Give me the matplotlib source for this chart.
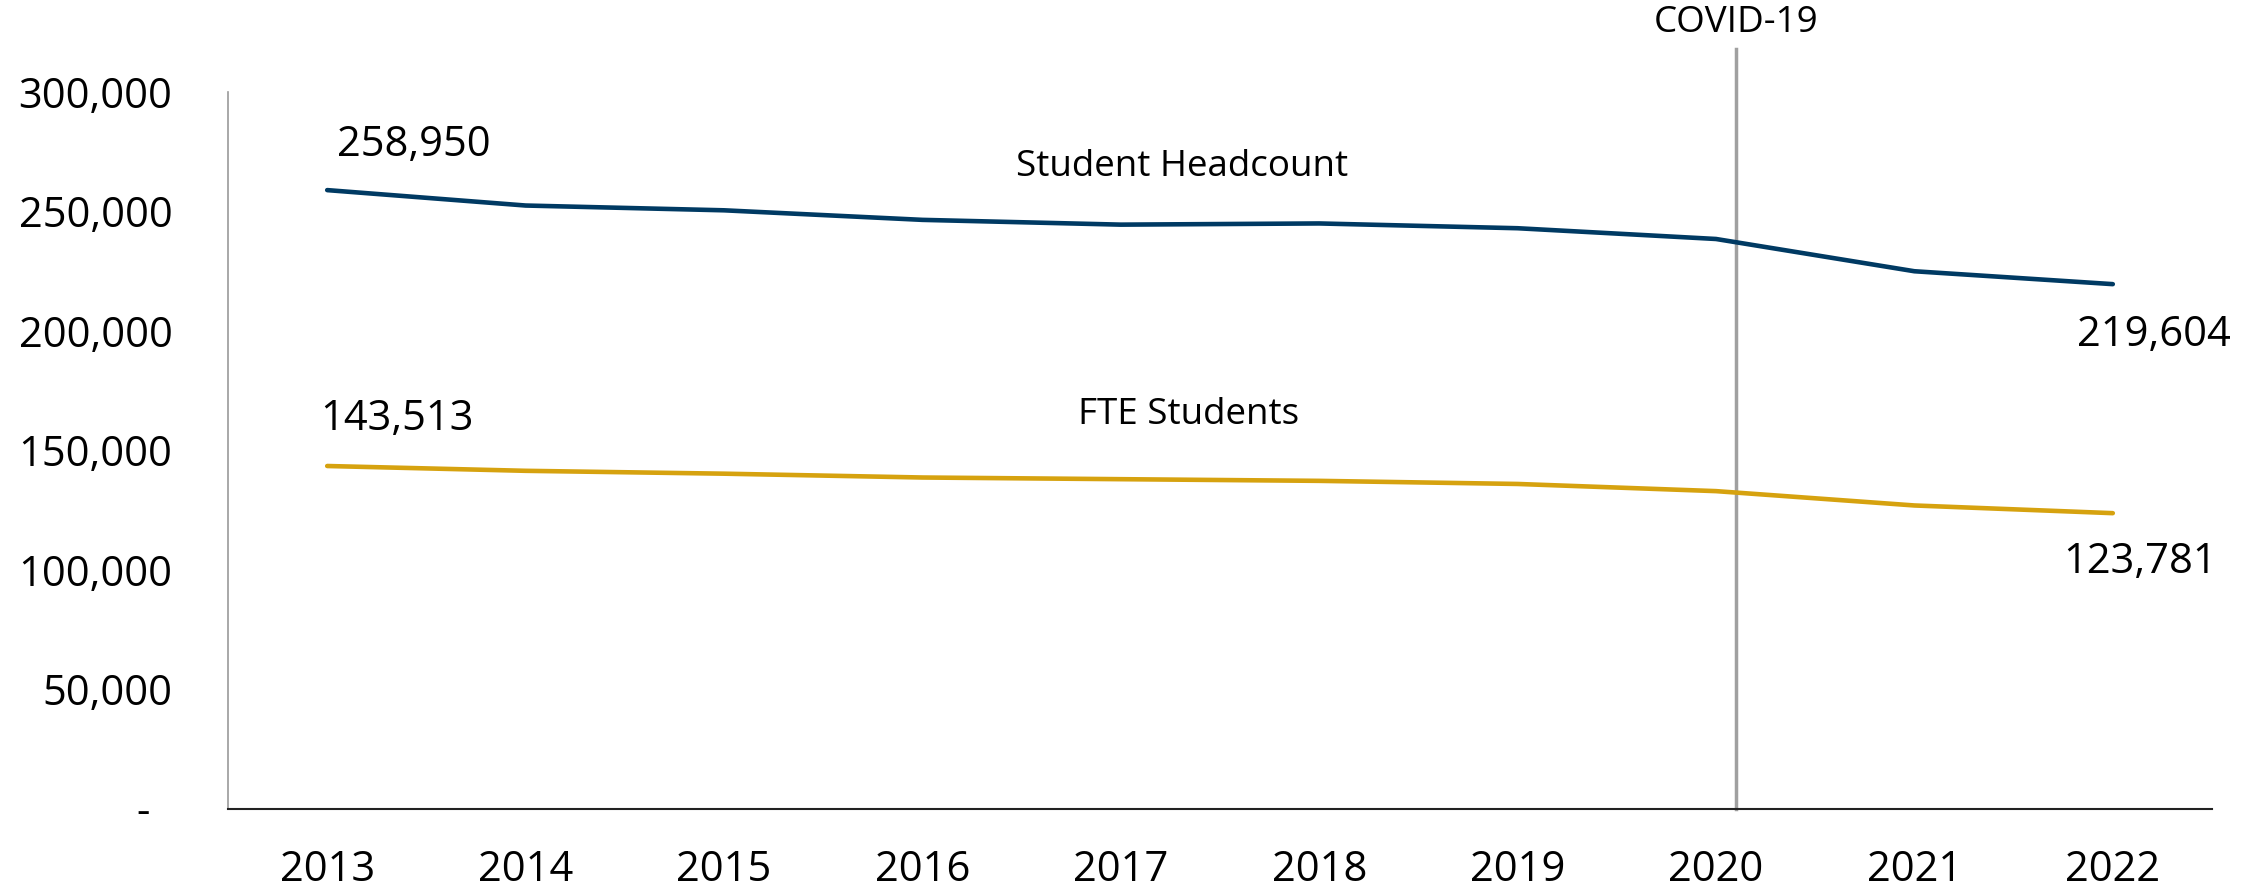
import matplotlib
matplotlib.use("Agg")
import matplotlib.pyplot as plt
from matplotlib.ticker import FuncFormatter

years = ["2013", "2014", "2015", "2016", "2017", "2018", "2019", "2020", "2021", "2022"]
headcount = [258950, 252500, 250500, 246500, 244500, 245000, 243000, 238500, 225000, 219604]
fte = [143513, 141500, 140300, 138700, 138000, 137300, 136000, 133000, 127000, 123781]
yticks = [0, 50000, 100000, 150000, 200000, 250000, 300000]

plt.rcParams['font.family'] = ['Open Sans', 'DejaVu Sans']

fig = plt.figure(figsize=(22.67, 8.90), dpi=100)
ax = fig.add_axes([228/2267, 1-809/890, (2212-228)/2267, (809-92)/890])

x = list(range(len(years)))
navy = "#003A63"
gold = "#D6A20F"
ax.plot(x, headcount, color=navy, lw=3.3, solid_capstyle='round', zorder=3)
ax.plot(x, fte, color=gold, lw=3.3, solid_capstyle='round', zorder=3)

ax.set_xlim(-0.5, len(years) - 0.5)
ax.set_ylim(0, 300000)
ax.set_xticks(x)
ax.set_xticklabels(years)
ax.set_yticks(yticks)
ax.yaxis.set_major_formatter(FuncFormatter(lambda v, p: "" if v == 0 else f"{int(v):,}"))
ax.tick_params(axis='both', length=0, labelsize=30, colors='black')
ax.tick_params(axis='x', pad=29)
ax.tick_params(axis='y', pad=40)
# accounting-style dash for zero (offset left like Excel's padded format)
ax.annotate("-", xy=(0, 0), xycoords=('axes fraction', 'data'), xytext=(-85, -4),
            textcoords='offset pixels', ha='center', va='center', fontsize=30)

for s in ['top', 'right']:
    ax.spines[s].set_visible(False)
ax.spines['left'].set_color('#9A9A9A')
ax.spines['left'].set_linewidth(1.2)
ax.spines['bottom'].set_color('#222222')
ax.spines['bottom'].set_linewidth(1.5)

lab = 30
ax.annotate(f"{headcount[0]:,}", (x[0], headcount[0]), xytext=(10, 45), textcoords='offset pixels',
            ha='left', va='center', fontsize=lab)
ax.annotate(f"{headcount[-1]:,}", (x[-1], headcount[-1]), xytext=(41, -51), textcoords='offset pixels',
            ha='center', va='center', fontsize=lab)
ax.annotate(f"{fte[0]:,}", (x[0], fte[0]), xytext=(-7, 47), textcoords='offset pixels',
            ha='left', va='center', fontsize=lab)
ax.annotate(f"{fte[-1]:,}", (x[-1], fte[-1]), xytext=(27, -49), textcoords='offset pixels',
            ha='center', va='center', fontsize=lab)

ax.text(4.31, 268600, "Student Headcount", ha='center', va='center', fontsize=26.5)
ax.text(4.34, 164800, "FTE Students", ha='center', va='center', fontsize=26.5)

covid_x = 7.1
ax.plot([covid_x, covid_x], [0, 1.06], transform=ax.get_xaxis_transform(), color='#A0A0A0',
        lw=2.5, clip_on=False, zorder=2)
ax.text(covid_x, 1.096, "COVID-19", transform=ax.get_xaxis_transform(), ha='center', va='center',
        fontsize=26.5)

fig.savefig("out.png", dpi=100)
